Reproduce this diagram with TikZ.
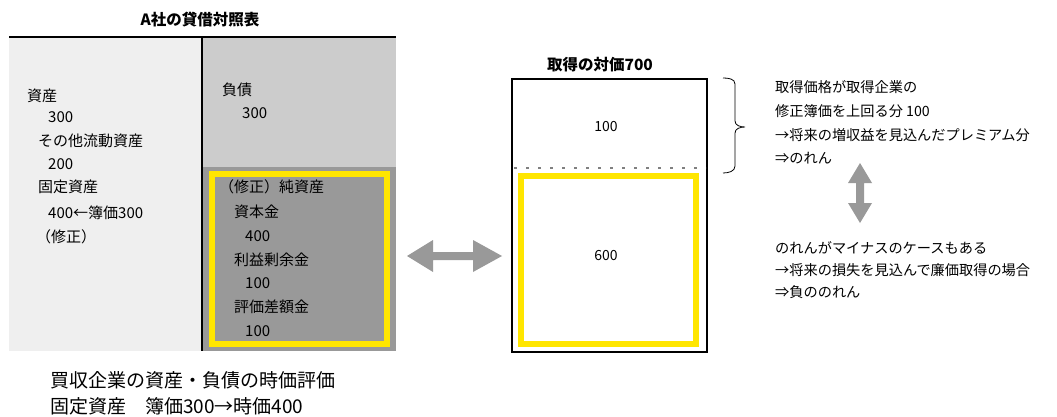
\documentclass[tikz,border=0pt]{standalone}
\usepackage{fontspec}
\setmainfont{Noto Sans CJK JP}
\definecolor{ylw}{HTML}{FFE600}
\definecolor{lite}{HTML}{EFEFEF}
\definecolor{midg}{HTML}{CCCCCC}
\definecolor{darkg}{HTML}{999999}
\definecolor{arrg}{HTML}{999999}
\definecolor{dotg}{HTML}{808080}
\begin{document}
\begin{tikzpicture}[x=1pt,y=-1pt,
  txt/.style={anchor=west,inner sep=0pt,font=\fontsize{15}{18}\selectfont},
  rtxt/.style={anchor=west,inner sep=0pt,font=\fontsize{14.2}{17}\selectfont},
  big/.style={anchor=west,inner sep=0pt,font=\fontsize{19}{22}\selectfont},
  ttl/.style={inner sep=0pt,font=\fontsize{15.5}{18}\selectfont\bfseries},
  num/.style={inner sep=0pt,font=\fontsize{14}{16}\selectfont},
  yframe/.style={draw=ylw,line width=6pt},
  garrow/.style={fill=arrg,draw=none}]
\useasboundingbox (0,0) rectangle (1057,417);
% title
\node[ttl] (t1) at (200,20) {A社の貸借対照表};
% panels
\fill[lite] (9,37) rectangle (202,351);
\fill[midg] (202,37) rectangle (396,167);
\fill[darkg] (202,167) rectangle (396,351);
\draw[line width=2pt] (9,37) -- (396,37);
\draw[line width=2pt] (202,37) -- (202,351);
\draw[yframe] (212,174) rectangle (387,344);
% left texts
\node[txt] (a1) at (27,96) {資産};
\node[txt] (a2) at (48,117) {300};
\node[txt] (a3) at (38,141) {その他流動資産};
\node[txt] (a4) at (48,164) {200};
\node[txt] (a5) at (38,187) {固定資産};
\node[txt] (a6) at (48,213) {400←簿価300};
\node[txt] (a7) at (36,237) {（修正）};
% right texts
\node[txt] (b1) at (222,90) {負債};
\node[txt] (b2) at (242,113) {300};
\node[txt] (c1) at (219,187) {（修正）純資産};
\node[txt] (c2) at (234,212) {資本金};
\node[txt] (c3) at (245,236) {400};
\node[txt] (c4) at (234,260) {利益剰余金};
\node[txt] (c5) at (245,283) {100};
\node[txt] (c6) at (234,307) {評価差額金};
\node[txt] (c7) at (245,331) {100};
% bottom
\node[big] (d1) at (50,380) {買収企業の資産・負債の時価評価};
\node[big] (d2) at (50,406) {固定資産\hspace{1em}簿価300→時価400};
% horizontal double arrow
\fill[garrow] (407,256) -- (433,240) -- (433,252) -- (473,252) -- (473,240) -- (502,256)
  -- (473,272) -- (473,260) -- (433,260) -- (433,272) -- cycle;
% middle box
\node[ttl] (t2) at (600,65) {取得の対価700};
\draw[line width=1.5pt] (512,79) rectangle (707,352);
\draw[dotg,line width=2.5pt,dash pattern=on 2.5pt off 9.5pt] (514,168) -- (706,168);
\draw[yframe] (521,176) rectangle (696,344);
\node[num] (m1) at (606,127) {100};
\node[num] (m2) at (606,256) {600};
% brace
\draw[line width=0.8pt] (723,78) to[out=0,in=90] (735,84) -- (735,121) to[out=-90,in=180] (745,127)
  to[out=180,in=90] (735,133) -- (735,166) to[out=-90,in=0] (723,173);
% right texts
\node[rtxt] (r1) at (775,87) {取得価格が取得企業の};
\node[rtxt] (r2) at (775,111) {修正簿価を上回る分 100};
\node[rtxt] (r3) at (775,135) {→将来の増収益を見込んだプレミアム分};
\node[rtxt] (r4) at (775,158) {⇒のれん};
% vertical double arrow
\fill[garrow] (860,163) -- (872,183) -- (864,183) -- (864,203) -- (872,203) -- (860,223)
  -- (848,203) -- (856,203) -- (856,183) -- (848,183) -- cycle;
\node[rtxt] (s1) at (775,248) {のれんがマイナスのケースもある};
\node[rtxt] (s2) at (775,270) {→将来の損失を見込んで廉価取得の場合};
\node[rtxt] (s3) at (775,292) {⇒負ののれん};
\end{tikzpicture}
\end{document}
